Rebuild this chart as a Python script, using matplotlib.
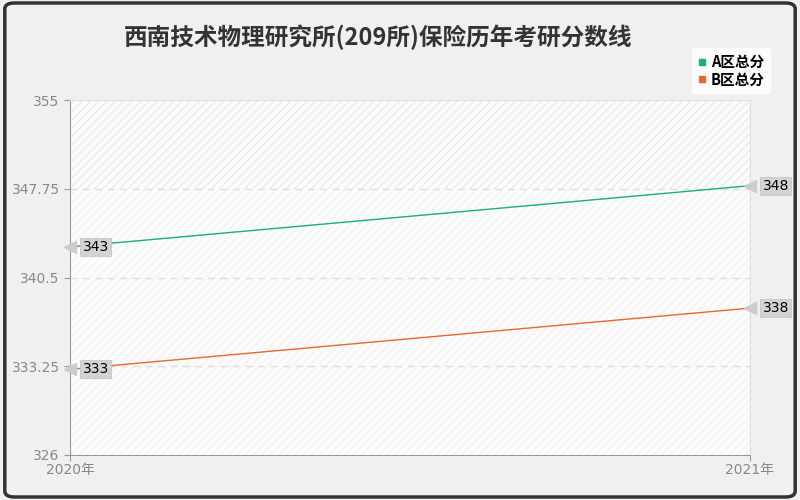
import matplotlib.pyplot as plt
from matplotlib.patches import FancyBboxPatch
from matplotlib.lines import Line2D

plt.rcParams['font.family'] = ['DejaVu Sans', 'Noto Sans CJK SC']
cjk = ['Noto Sans CJK SC', 'DejaVu Sans']

years = ['2020年', '2021年']
a_scores = [343, 348]
b_scores = [333, 338]
y_ticks = [326, 333.25, 340.5, 347.75, 355]
y_tick_labels = ['326', '333.25', '340.5', '347.75', '355']
colors = ['#1aaf7f', '#e8692f']
names = ['A区总分', 'B区总分']

fig = plt.figure(figsize=(8, 5), dpi=100, facecolor='#f0f0f0')
# rounded dark frame
fig.patches.append(FancyBboxPatch((0.006, 0.006), 0.988, 0.988,
                                  boxstyle='round,pad=0,rounding_size=0.012',
                                  transform=fig.transFigure, facecolor='none',
                                  edgecolor='#333333', linewidth=2.5))

ax = fig.add_axes([0.0875, 0.09, 0.85, 0.71])
ax.set_facecolor('#fcfcfc')
ax.set_xlim(0, 1)
ax.set_ylim(326, 355)

# hatched background bands
ax.axhspan(347.75, 355, facecolor='none', edgecolor='#ececec', hatch='////', linewidth=0)
ax.axhspan(326, 347.75, facecolor='none', edgecolor='#f3f3f3', hatch='////', linewidth=0)

for y in y_ticks[1:-1]:
    ax.axhline(y, color='#dddddd', linestyle=(0, (5, 4)), linewidth=1)

x = [0, 1]
ax.plot(x, a_scores, color=colors[0], linewidth=1)
ax.plot(x, b_scores, color=colors[1], linewidth=1)

for series in (a_scores, b_scores):
    for xi, v in zip(x, series):
        ax.plot([xi], [v], marker='<', markersize=9, color='#cccccc',
                markeredgecolor='#cccccc', clip_on=False, zorder=4)
        ax.annotate(str(v), (xi, v), xytext=(9, 0), textcoords='offset points',
                    ha='left', va='center', fontsize=10, color='black',
                    bbox=dict(boxstyle='square,pad=0.15', facecolor='#d3d3d3',
                              edgecolor='#c0c0c0', linewidth=0.5),
                    annotation_clip=False, zorder=5)

ax.set_yticks(y_ticks)
ax.set_yticklabels(y_tick_labels)
ax.set_xticks(x)
ax.set_xticklabels(years)
ax.tick_params(colors='#999999', labelcolor='#888888', labelsize=10, length=4)
ax.tick_params(axis='x', pad=2)
for side in ('top', 'right'):
    ax.spines[side].set_color('#e0e0e0')
for side in ('left', 'bottom'):
    ax.spines[side].set_color('#999999')

fig.text(0.473, 0.926, '西南技术物理研究所(209所)保险历年考研分数线', ha='center',
         va='center', fontsize=17, fontweight='bold', color='#333333', family=cjk)

handles = [Line2D([], [], linestyle='none', marker='s', markersize=4,
                  color=c) for c in colors]
leg = fig.legend(handles, names, loc='upper right', bbox_to_anchor=(0.972, 0.918),
                 prop={'family': cjk, 'size': 10.5, 'weight': 'bold'},
                 handlelength=0.6, handletextpad=0.3,
                 labelspacing=0.1, borderpad=0.4, frameon=True, fancybox=True)
leg.get_frame().set_facecolor('white')
leg.get_frame().set_edgecolor('white')

fig.savefig('out.png', dpi=100, facecolor=fig.get_facecolor())
